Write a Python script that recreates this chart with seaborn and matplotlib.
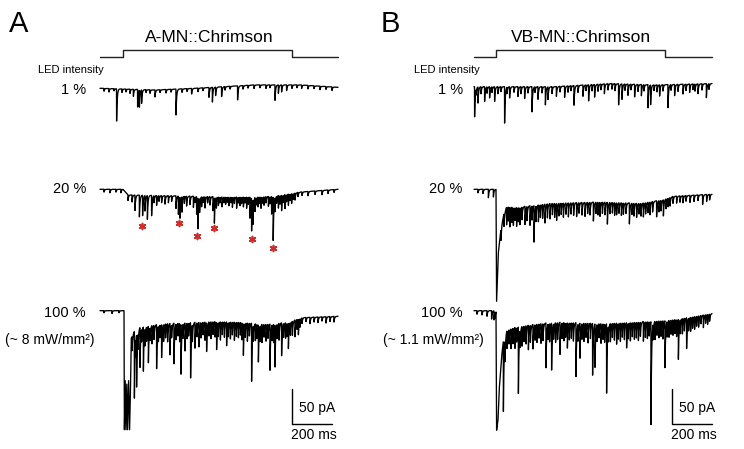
import numpy as np
import matplotlib
matplotlib.use("Agg")
import matplotlib.pyplot as plt
import seaborn as sns

# ---------------- data ----------------
# every sweep is 1190 ms long, currents in pA (inward = down)
SWEEP_MS = 1190
DT = 0.5
TAU = 3.0

conditions = ["1 %", "20 %", "100 %"]
titles = ["A-MN::Chrimson", "VB-MN::Chrimson"]
panel_letters = ["A", "B"]
power_labels = ["(~ 8 mW/mm²)", "(~ 1.1 mW/mm²)"]

led_on = [115, 110]
led_off = [960, 955]

# vertical stacking of the sweeps (pA units of the page)
offsets_a = [515.3, 371.0, 197.6]
offsets_b = [517.6, 371.0, 197.6]
led_low, led_high = 559.6, 570.0

# slow baseline of each sweep: (ms, pA)
a1_knots = [(0, 0), (275, -2.4), (475, 0), (775, 4.8), (1000, 4.8), (1190, 1.4)]
a20_knots = [(0, 0), (115, 0), (140, -8), (300, -9), (500, -10), (650, -11),
             (850, -10), (950, -6), (1000, -4), (1190, 0)]
a100_knots = [(0, 0), (120, 0), (122, -170), (126, -100), (130, -170), (134, -105),
              (138, -170), (143, -100), (148, -170), (152, -120), (156, -40),
              (170, -30), (200, -23), (325, -18), (575, -15), (700, -16),
              (825, -19), (950, -16), (1000, -10), (1190, -8)]
b1_knots = [(0, 0), (400, 0), (685, 4.5), (900, 2.5), (1190, 4.5)]
b20_knots = [(0, 0), (110, 0), (113, -160), (118, -120), (122, -90), (130, -68),
             (140, -48), (150, -35), (165, -24), (230, -25), (380, -20),
             (630, -18), (830, -20), (945, -15), (995, -10), (1190, -7)]
b100_knots = [(0, 0), (110, 0), (113, -170), (120, -156), (126, -113), (138, -66),
              (146, -45), (163, -28), (205, -23), (330, -18), (430, -16),
              (645, -18), (815, -16), (980, -13), (1080, -9), (1190, -4)]

# synaptic events: (onset ms, amplitude pA)
a1_events = [(20, 4), (45, 5), (70, 3), (83, 46), (110, 5), (130, 4), (150, 6), (167, 10),
             (188, 25), (197, 24), (208, 19), (230, 4), (250, 5), (275, 10), (300, 4),
             (330, 5), (355, 4), (380, 37), (410, 5), (435, 4), (458, 8), (490, 5),
             (515, 4), (545, 14), (562, 21), (578, 12), (608, 14), (625, 5), (650, 4),
             (688, 20), (715, 5), (740, 4), (770, 5), (800, 4), (830, 5), (850, 4),
             (875, 22), (892, 12), (908, 10), (933, 8), (960, 5), (985, 4), (1008, 5),
             (1040, 5), (1070, 4), (1100, 5), (1130, 4), (1160, 5)]

a20_events = [(20, 4), (50, 5), (80, 4), (105, 5),
              (140, 8), (160, 10), (175, 22), (197, 31), (213, 29), (225, 22), (237, 34),
              (258, 29), (270, 10), (283, 14), (295, 8), (308, 10), (325, 12), (342, 10),
              (358, 8), (380, 18), (392, 26), (400, 30), (410, 22), (422, 10), (433, 14),
              (450, 12), (467, 16), (475, 8), (483, 25), (490, 44), (498, 20), (508, 14),
              (517, 8), (525, 16), (538, 9), (550, 12), (565, 20), (572, 36), (582, 15),
              (592, 12), (600, 8), (610, 14), (620, 8), (628, 10), (637, 7), (645, 12),
              (655, 8), (662, 14), (672, 9), (683, 16), (692, 8), (700, 12), (708, 9),
              (717, 14), (725, 8), (733, 16), (742, 10), (750, 30), (758, 47), (765, 35),
              (775, 20), (782, 10), (790, 14), (798, 9), (805, 16), (812, 8), (820, 12),
              (830, 9), (842, 14), (850, 10), (858, 25), (866, 62), (875, 20), (883, 10),
              (892, 18), (900, 12), (908, 22), (916, 10), (925, 20), (933, 10), (942, 16),
              (950, 9), (958, 14), (966, 8), (975, 10), (990, 6), (1010, 5), (1040, 6),
              (1075, 5), (1110, 6), (1140, 5), (1170, 4)]

a100_events = [(20, 3), (60, 4), (95, 3),
               (160, 20), (172, 95), (178, 25), (183, 75), (190, 22), (200, 57), (208, 18),
               (217, 63), (225, 24), (233, 20), (242, 52), (250, 18), (260, 26), (270, 20),
               (283, 63), (292, 22), (300, 18), (308, 47), (318, 24), (328, 20), (338, 26),
               (350, 45), (358, 18), (370, 58), (380, 22), (390, 18), (398, 26), (405, 71),
               (415, 20), (425, 40), (435, 22), (443, 18), (453, 79), (462, 24), (475, 37),
               (485, 20), (495, 35), (505, 22), (515, 18), (525, 26), (533, 41), (545, 20),
               (555, 24), (565, 18), (575, 22), (583, 39), (592, 20), (602, 26), (612, 18),
               (622, 22), (633, 34), (642, 20), (652, 24), (662, 18), (672, 26), (682, 20),
               (692, 22), (702, 18), (710, 24), (717, 45), (727, 20), (737, 26), (747, 18),
               (758, 83), (767, 22), (777, 24), (785, 20), (792, 53), (800, 22), (810, 26),
               (820, 18), (830, 24), (840, 20), (850, 66), (860, 22), (868, 26), (875, 60),
               (885, 20), (895, 24), (908, 47), (918, 20), (928, 22), (935, 18), (942, 36),
               (952, 18), (962, 20), (975, 24), (985, 14), (992, 22), (1000, 12),
               (1010, 8), (1030, 6), (1050, 9), (1070, 7), (1090, 8), (1110, 6),
               (1130, 9), (1150, 7), (1170, 8)]

b1_events = [(3, 43), (10, 8), (20, 23), (35, 10), (53, 21), (65, 9), (78, 16), (90, 8),
             (103, 21), (120, 10), (135, 7), (153, 52), (165, 9), (178, 16), (200, 8),
             (220, 14), (235, 10), (253, 17), (270, 9), (290, 36), (305, 8), (320, 18),
             (340, 9), (357, 26), (370, 18), (390, 10), (412, 14), (430, 8), (453, 16),
             (470, 9), (485, 7), (500, 28), (520, 10), (545, 16), (560, 8), (573, 23),
             (590, 9), (603, 18), (620, 10), (635, 8), (652, 14), (670, 9), (690, 8),
             (705, 10), (723, 30), (740, 22), (755, 9), (770, 16), (785, 8), (803, 18),
             (820, 10), (837, 16), (850, 9), (870, 33), (883, 28), (900, 8), (915, 10),
             (928, 16), (945, 9), (970, 33), (985, 8), (1003, 16), (1020, 10), (1045, 14),
             (1060, 9), (1078, 12), (1095, 8), (1105, 10), (1120, 14), (1140, 9),
             (1162, 20), (1175, 8)]

b20_events = [(20, 5), (45, 6), (72, 12), (97, 11),
              (135, 15), (150, 18), (163, 25), (172, 20), (180, 28), (190, 22), (197, 25),
              (205, 18), (213, 27), (222, 20), (230, 24), (240, 18), (255, 26), (265, 20),
              (280, 28), (290, 20), (300, 52), (310, 22), (322, 24), (332, 18), (343, 20),
              (355, 27), (367, 20), (380, 22), (392, 16), (403, 20), (413, 24), (425, 18),
              (436, 16), (447, 20), (460, 16), (472, 20), (485, 16), (498, 18), (513, 20),
              (525, 15), (540, 18), (555, 20), (568, 16), (580, 18), (597, 27), (610, 16),
              (620, 18), (630, 20), (642, 16), (655, 18), (667, 31), (680, 16), (692, 15),
              (703, 18), (713, 17), (725, 15), (737, 18), (747, 16), (760, 15), (777, 30),
              (790, 16), (800, 18), (813, 20), (825, 15), (835, 18), (847, 20), (858, 16),
              (870, 15), (880, 18), (893, 15), (913, 23), (925, 16), (935, 15), (947, 23),
              (960, 14), (970, 12), (980, 12), (995, 10), (1013, 10), (1030, 9),
              (1045, 10), (1060, 8), (1080, 10), (1100, 9), (1120, 8), (1143, 14),
              (1163, 10), (1178, 8)]

b100_events = [(15, 5), (40, 6), (65, 8), (88, 12), (100, 13), (105, 8),
               (147, 100), (155, 30), (165, 25), (175, 20), (185, 28), (195, 22), (205, 30),
               (213, 20), (222, 95), (230, 24), (240, 28), (250, 22), (260, 26), (272, 35),
               (282, 24), (295, 35), (305, 22), (315, 26), (325, 20), (335, 28), (345, 24),
               (360, 64), (370, 22), (378, 26), (388, 67), (398, 22), (408, 28), (418, 24),
               (430, 46), (440, 22), (450, 26), (458, 20), (467, 36), (477, 24), (487, 22),
               (497, 26), (510, 77), (520, 24), (530, 50), (540, 22), (550, 26), (560, 20),
               (570, 28), (582, 22), (593, 74), (605, 62), (615, 24), (625, 20), (635, 28),
               (645, 22), (653, 26), (663, 99), (672, 22), (682, 26), (692, 20), (702, 24),
               (713, 30), (722, 22), (732, 26), (742, 20), (752, 24), (763, 36), (772, 22),
               (782, 26), (792, 20), (802, 24), (812, 22), (822, 26), (832, 20), (847, 28),
               (857, 22), (867, 24), (876, 20), (885, 147), (895, 22), (905, 26), (915, 20),
               (925, 24), (935, 22), (945, 26), (955, 67), (965, 22), (975, 24), (985, 20),
               (995, 22), (1005, 20), (1013, 24), (1022, 57), (1032, 20), (1042, 22),
               (1052, 18), (1063, 44), (1073, 18), (1083, 20), (1093, 16), (1103, 18),
               (1113, 14), (1123, 16), (1135, 12), (1147, 18), (1158, 12), (1168, 14),
               (1178, 10)]

# red asterisks over the compound events in A, 20 % (ms, pA below sweep)
star_ms = [212, 395, 487, 572, 762, 867]
star_pa = [-52.4, -48.6, -66.3, -54.9, -70.6, -83.4]

# scale bar: 200 ms x 50 pA, lower left corner (ms, page pA)
bar_ms, bar_pa = 200, 50
bar_corner = [(960, 35.7), (988.5, 35.7)]


def make_trace(knots, events, tau=TAU):
    t = np.arange(0, SWEEP_MS + DT, DT)
    kt, kv = np.array(knots, dtype=float).T
    y = np.interp(t, kt, kv)
    for t0, amp in events:
        after = t >= t0
        y[after] -= amp * np.exp(-(t[after] - t0) / tau)
    return t, y


def px(x, y):
    # page pixel -> figure fraction
    return x / 744, 1 - y / 449


sns.set_style("white")
plt.rcParams["font.family"] = ["Liberation Sans", "DejaVu Sans"]
plt.rcParams["text.color"] = "black"

fig = plt.figure(figsize=(7.44, 4.49), dpi=100)
ax_a = fig.add_axes([0, 0, 0.5, 1])
ax_b = fig.add_axes([0.5, 0, 0.5, 1])
ax_a.set_xlim(-500, 1360)
ax_b.set_xlim(-510, 1350)

panels = [
    (ax_a, offsets_a, [a1_knots, a20_knots, a100_knots], [a1_events, a20_events, a100_events]),
    (ax_b, offsets_b, [b1_knots, b20_knots, b100_knots], [b1_events, b20_events, b100_events]),
]

for i, (ax, offs, knots_list, events_list) in enumerate(panels):
    ax.set_ylim(0, 449 / 0.7)
    ax.set_axis_off()

    for off, knots, events in zip(offs, knots_list, events_list):
        t, y = make_trace(knots, events)
        sns.lineplot(x=t, y=y + off, ax=ax, color="black", linewidth=0.95,
                     estimator=None, sort=False)

    # LED command step
    led_x = [0, led_on[i], led_on[i], led_off[i], led_off[i], SWEEP_MS]
    led_y = [led_low, led_low, led_high, led_high, led_low, led_low]
    ax.plot(led_x, led_y, color="#222222", linewidth=1.0)

    # scale bar
    cx, cy = bar_corner[i]
    ax.plot([cx, cx, cx + bar_ms], [cy + bar_pa, cy, cy], color="black", linewidth=1.0)

ax_a.scatter(star_ms, [offsets_a[1] + s for s in star_pa], marker=(6, 2, 0),
             s=18, color="#d42a2a", linewidths=1.2, zorder=5)

# ---------------- text ----------------
for i, x0 in enumerate([0, 372]):
    fig.text(*px(x0 + 9, 31.7), panel_letters[i], fontsize=21, va="baseline")
    fig.text(*px([209, 581][i], 41.7), titles[i], fontsize=12.5, ha="center", va="baseline")
    fig.text(*px(x0 + [37.7, 42.3][i], 72.7), "LED intensity", fontsize=8, va="baseline")
    right = [86, 462.7][i]
    for lab, yb in zip(conditions, [94, 193, 317.3]):
        fig.text(*px(right, yb), lab, fontsize=10.5, ha="right", va="baseline")
    fig.text(*px([5, 383][i], 344), power_labels[i], fontsize=10, va="baseline")
    fig.text(*px([299.3, 679.3][i], 411.7), "50 pA", fontsize=10, va="baseline")
    fig.text(*px([291, 671][i], 439), "200 ms", fontsize=10, va="baseline")

fig.savefig("out.png", dpi=100)
